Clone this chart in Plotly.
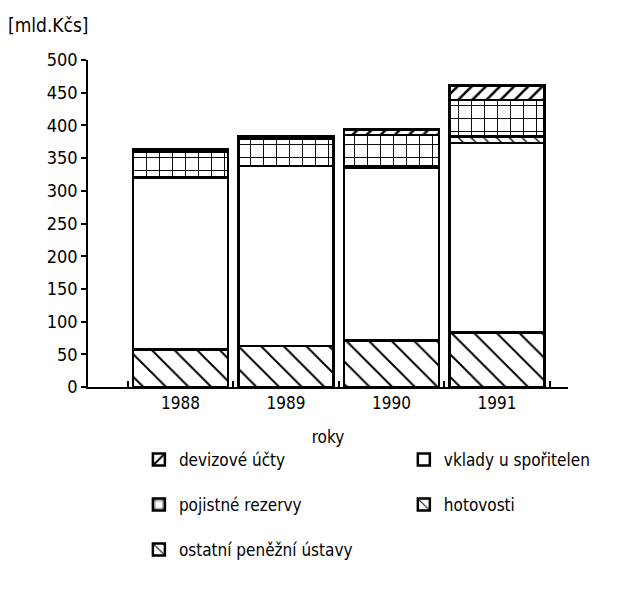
import plotly.graph_objects as go

years = ["1988", "1989", "1990", "1991"]
hotovosti = [57, 63, 71, 83]
vklady = [263, 275, 264, 290]
ostatni = [None, None, 2, 10]
pojistne = [40, 42, 48, 56]
devizove = [3, 3, 9, 22]

FONT = "DejaVu Sans Condensed"

# (name, values, pattern shape, pattern size, solidity, legend id)
series = [
    ("hotovosti", hotovosti, "\\", 16, 0.12, "legend4"),
    ("vklady u spořitelen", vklady, "", 8, 0.2, "legend2"),
    ("ostatní peněžní ústavy", ostatni, "\\", 9, 0.15, "legend5"),
    ("pojistné rezervy", pojistne, "+", 13, 0.14, "legend3"),
    ("devizové účty", devizove, "/", 10, 0.25, "legend"),
]

fig = go.Figure()
for name, vals, shape, size, sol, leg in series:
    fig.add_trace(go.Bar(
        x=years, y=vals, name=name, legend=leg,
        marker=dict(color="white",
                    line=dict(color="black", width=2.5),
                    pattern=dict(shape=shape, size=size, solidity=sol,
                                 fgcolor="black", bgcolor="white", fillmode="replace")),
    ))

def leg(x, y):
    return dict(orientation="h", xanchor="left", yanchor="middle", x=x, y=y,
                font=dict(family=FONT, size=17, color="black"),
                bgcolor="rgba(0,0,0,0)")

row1, row2, row3 = -0.223, -0.361, -0.498
colL, colR = 0.106, 0.658

fig.update_layout(
    width=612, height=593,
    margin=dict(l=80, r=52, t=52, b=214, autoexpand=False),
    paper_bgcolor="white", plot_bgcolor="white",
    barmode="stack", bargap=0.1,
    font=dict(family=FONT, size=17, color="black"),
    showlegend=True,
    legend=leg(colL, row1),
    legend2=leg(colR, row1),
    legend3=leg(colL, row2),
    legend4=leg(colR, row2),
    legend5=leg(colL, row3),
    xaxis=dict(range=[-0.877, 3.673], showline=True, linecolor="black", linewidth=1.5,
               ticks="inside", tickson="boundaries", ticklen=6, tickwidth=1.5,
               tickcolor="black", showgrid=False, tickfont=dict(size=17),
               title=dict(text="roky", font=dict(size=17), standoff=19)),
    yaxis=dict(range=[0, 500], tickvals=list(range(0, 501, 50)), showline=True,
               linecolor="black", linewidth=1.5, ticks="outside", ticklen=5,
               tickcolor="black", tickwidth=1.5, showgrid=False, zeroline=False,
               tickfont=dict(size=18)),
    annotations=[dict(text="[mld.Kčs]", xref="paper", yref="paper", x=-0.17, y=1.107,
                      xanchor="left", yanchor="middle", showarrow=False,
                      font=dict(family=FONT, size=19, color="black"))],
)

fig.write_html("out.html")
